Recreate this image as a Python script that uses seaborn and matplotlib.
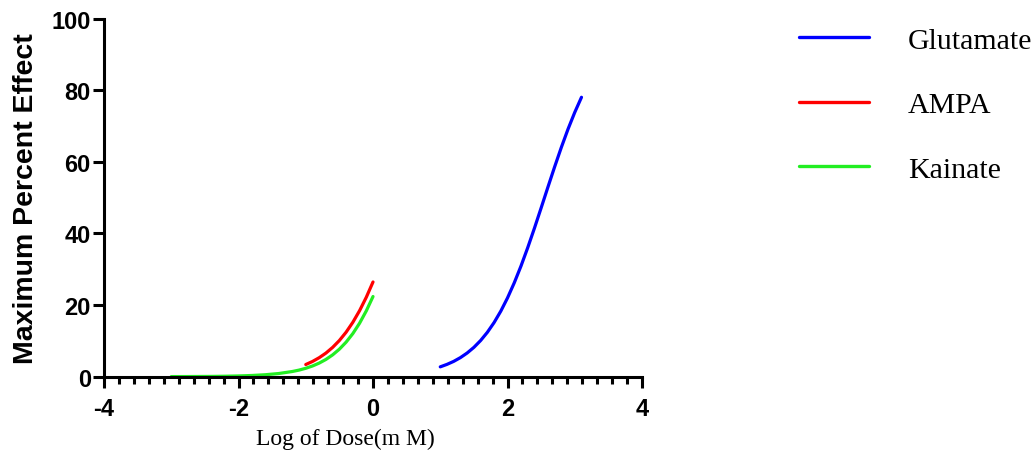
import numpy as np
import pandas as pd
import matplotlib
matplotlib.use("Agg")
import matplotlib.pyplot as plt
import seaborn as sns
from matplotlib.ticker import FixedLocator

# Fitted dose-response curves (log dose in mM vs. percent of maximum effect)
glu_logdose = [1.0, 1.1, 1.2, 1.3, 1.4, 1.5, 1.6, 1.7, 1.8, 1.9, 2.0,
               2.1, 2.2, 2.3, 2.4, 2.5, 2.6, 2.7, 2.8, 2.9, 3.0, 3.1]
glu_effect = [2.74, 3.43, 4.27, 5.32, 6.61, 8.18, 10.09, 12.38, 15.10, 18.29, 21.99,
              26.19, 30.87, 35.99, 41.44, 47.12, 52.88, 58.55, 64.01, 69.13, 73.81, 78.02]

ampa_logdose = [-1.0, -0.9, -0.8, -0.7, -0.6, -0.5, -0.4, -0.3, -0.2, -0.1, 0.0]
ampa_effect = [3.39, 4.24, 5.30, 6.59, 8.18, 10.10, 12.42, 15.18, 18.42, 22.17, 26.44]

kai_logdose = [-3.0, -2.8, -2.6, -2.4, -2.2, -2.0, -1.8, -1.6, -1.4, -1.2, -1.1,
               -1.0, -0.9, -0.8, -0.7, -0.6, -0.5, -0.4, -0.3, -0.2, -0.1, 0.0]
kai_effect = [0.02, 0.03, 0.05, 0.07, 0.12, 0.20, 0.33, 0.54, 0.88, 1.44, 1.83,
              2.34, 2.98, 3.79, 4.81, 6.09, 7.68, 9.64, 12.03, 14.92, 18.36, 22.38]

agonists = ["Glutamate", "AMPA", "Kainate"]
colors = {"Glutamate": "#0000FF", "AMPA": "#FF0000", "Kainate": "#22EE22"}

x_ticks = [-4, -2, 0, 2, 4]
y_ticks = [0, 20, 40, 60, 80, 100]

frames = []
for name, xs, ys in [("Glutamate", glu_logdose, glu_effect),
                     ("AMPA", ampa_logdose, ampa_effect),
                     ("Kainate", kai_logdose, kai_effect)]:
    frames.append(pd.DataFrame({"logdose": xs, "effect": ys, "agonist": name}))
df = pd.concat(frames, ignore_index=True)

sns.set_style("ticks")
plt.rcParams["font.family"] = ["Liberation Sans", "DejaVu Sans"]
for key in ["text.color", "axes.labelcolor", "xtick.color", "ytick.color", "axes.edgecolor"]:
    plt.rcParams[key] = "black"

fig = plt.figure(figsize=(10.36, 4.6), dpi=100)
ax = fig.add_axes([0.1004, 0.179, 0.5193, 0.7785])

sns.lineplot(data=df, x="logdose", y="effect", hue="agonist", hue_order=agonists,
             palette=colors, linewidth=2.3, sort=True, estimator=None, ax=ax,
             legend=False)

ax.set_xlim(-4, 4)
ax.set_ylim(0, 100)
ax.set_xticks(x_ticks)
ax.set_yticks(y_ticks)
ax.xaxis.set_minor_locator(FixedLocator(np.linspace(-4, 4, 37)))
ax.set_xticklabels([str(t) for t in x_ticks], fontsize=17, fontweight="bold")
ax.set_yticklabels([str(t) for t in y_ticks], fontsize=17, fontweight="bold")

for side in ["top", "right"]:
    ax.spines[side].set_visible(False)
for side in ["left", "bottom"]:
    ax.spines[side].set_linewidth(2.2)
    ax.spines[side].set_color("black")
ax.tick_params(axis="both", which="major", direction="out", length=8, width=2.2,
               color="black")
ax.tick_params(axis="x", which="major", pad=7)
ax.tick_params(axis="y", which="major", pad=1.5)
ax.tick_params(axis="x", which="minor", direction="out", length=5, width=2.2,
               color="black")

ax.set_xlabel("Log of Dose(m M)", fontsize=17, family="Liberation Serif")
ax.xaxis.set_label_coords(0.448, -0.173)
ax.xaxis.label.set_verticalalignment("center")

ax.set_ylabel("Maximum Percent Effect", fontsize=20.5, fontweight="bold")
ax.yaxis.set_label_coords(-0.145, 0.5)
ax.yaxis.label.set_verticalalignment("center")

handles = [plt.Line2D([], [], color=colors[a], linewidth=2.4) for a in agonists]
fig.legend(handles, agonists, loc="upper left", bbox_to_anchor=(0.7712, 0.94),
           frameon=False, handlelength=2.34, handletextpad=1.3, labelspacing=1.26,
           borderaxespad=0, borderpad=0,
           prop={"family": "Liberation Serif", "size": 21.5})

fig.savefig("out.png", dpi=100)
